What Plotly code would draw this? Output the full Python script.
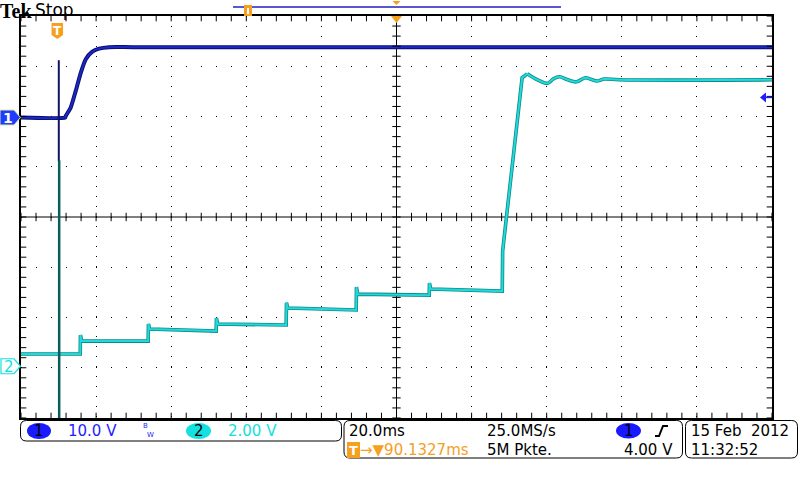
import plotly.graph_objects as go

# ---------------- scope settings ----------------
TIME_PER_DIV_MS = 20.0
TRIG_POS_MS = 90.1327          # trigger is this far left of screen centre
CH1_VOLTS_PER_DIV = 10.0
CH2_VOLTS_PER_DIV = 2.00
CH1_POS_DIV = 1.98             # ground marker positions (divisions from centre)
CH2_POS_DIV = -2.97
TRIG_LEVEL_V = 4.00

# ---------------- channel 1 (dark blue) ----------------
ch1_t = [-9.87, 1.9, 2.05, 3.38, 4.71, 6.05, 7.38, 9.13, 10.92, 13.58, 20.0, 190.13]
ch1_v = [0.0, 0.0, 0.3, 2.0, 5.3, 8.9, 11.6, 13.1, 13.7, 14.0, 14.0, 14.0]
ch1_spike_t = [0.2, 0.2]
ch1_spike_v = [11.4, -8.7]

# ---------------- channel 2 (cyan) ----------------
# staircase + rise (up to the first overshoot peak)
ch2_t = [-9.87, 5.9, 5.97, 6.3, 24.0, 24.07, 24.4, 42.1, 42.18, 42.5, 60.75, 60.83,
         61.15, 79.4, 79.47, 79.8, 98.85, 98.91, 99.25, 118.3, 118.4, 120.83, 121.54,
         122.42, 123.06, 123.59, 124.93]
ch2_v = [0.49, 0.49, 1.24, 1.00, 1.00, 1.68, 1.48, 1.40, 1.92, 1.68, 1.64, 2.53,
         2.32, 2.24, 3.15, 2.87, 2.83, 3.31, 3.07, 2.99, 4.58, 7.84, 8.70,
         9.89, 10.69, 11.48, 11.64]
# damped ringing after the overshoot peak
ch2_ring_t = [124.93, 127.7, 130.33, 131.9, 133.53, 135.7, 138.06, 140.45, 143.38,
              145.51, 149.5, 190.13]
ch2_ring_v = [11.64, 11.40, 11.26, 11.44, 11.52, 11.40, 11.32, 11.48, 11.35,
              11.43, 11.40, 11.40]
ch2_spike_t = [0.3, 0.3]
ch2_spike_v = [8.2, -6.0]

# ---------------- status texts ----------------
ch1_scale_text = "10.0 V"
ch2_scale_text = "2.00 V"
timebase_text = "20.0ms"
sample_rate_text = "25.0MS/s"
record_text = "5M Pkte."
trig_pos_text = "\u2192\u25bc90.1327ms"
trig_level_text = "4.00 V"
date_text = "15 Feb  2012"
time_text = "11:32:52"

# ---------------- geometry ----------------
W, H = 800, 480
L, R, T, B = 21, 772, 16, 418
PW, PH = R - L, B - T
DIV_X, DIV_Y = PW / 10.0, PH / 8.0

def xp(px):
    return (px - L) / PW

def yp(py):
    return (B - py) / PH

def poly(points):
    s = "M" + " L".join(f"{xp(a):.5f},{yp(b):.5f}" for a, b in points) + " Z"
    return s

def rrect(x0, y0, x1, y1, r):
    a, b = xp(x0), xp(x1)
    c, d = yp(y0), yp(y1)
    rx, ry = r / PW, r / PH
    return (f"M{a+rx},{c} L{b-rx},{c} Q{b},{c} {b},{c-ry} L{b},{d+ry} Q{b},{d} {b-rx},{d} "
            f"L{a+rx},{d} Q{a},{d} {a},{d+ry} L{a},{c-ry} Q{a},{c} {a+rx},{c} Z")

ORANGE = "#f5a01e"
BLUE_LBL = "#1e1eff"
CYAN_LBL = "#14dede"
FONT = "DejaVu Sans"

xmin = TRIG_POS_MS - 5 * TIME_PER_DIV_MS
xmax = TRIG_POS_MS + 5 * TIME_PER_DIV_MS
y1r = [(-4 - CH1_POS_DIV) * CH1_VOLTS_PER_DIV, (4 - CH1_POS_DIV) * CH1_VOLTS_PER_DIV]
y2r = [(-4 - CH2_POS_DIV) * CH2_VOLTS_PER_DIV, (4 - CH2_POS_DIV) * CH2_VOLTS_PER_DIV]

fig = go.Figure()

# ---- graticule decorations (in division units on overlay axes) ----
minor_x = [i * 0.2 for i in range(51)]
minor_y = [j * 0.2 - 4 for j in range(41)]
tick_style = dict(symbol="line-ns", size=6, line=dict(width=1, color="black"))
tick_style_ew = dict(symbol="line-ew", size=6, line=dict(width=1, color="black"))
small_ns = dict(symbol="line-ns", size=4, line=dict(width=1, color="black"))
small_ew = dict(symbol="line-ew", size=4, line=dict(width=1, color="black"))
dy_in = 2.5 / DIV_Y
dx_in = 2.5 / DIV_X
deco = [
    (minor_x, [0] * len(minor_x), tick_style),
    ([5] * len(minor_y), minor_y, tick_style_ew),
    (minor_x, [4 - dy_in] * len(minor_x), small_ns),
    (minor_x, [-4 + dy_in] * len(minor_x), small_ns),
    ([dx_in] * len(minor_y), minor_y, small_ew),
    ([10 - dx_in] * len(minor_y), minor_y, small_ew),
]
for xs, ys, mk in deco:
    fig.add_trace(go.Scatter(x=xs, y=ys, mode="markers", marker=mk, xaxis="x2", yaxis="y3",
                             hoverinfo="skip", cliponaxis=False))

# ---- channel 1 ----
for col, wd in [("#0c0c78", 4), ("#1a2ac0", 2)]:
    fig.add_trace(go.Scatter(x=ch1_t, y=ch1_v, mode="lines",
                             line=dict(color=col, width=wd, shape="spline", smoothing=0.6),
                             yaxis="y", hoverinfo="skip"))
fig.add_trace(go.Scatter(x=ch1_spike_t, y=ch1_spike_v, mode="lines",
                         line=dict(color="#121268", width=2), yaxis="y", hoverinfo="skip"))
# ---- channel 2 ----
for col, wd in [("#0a8a8a", 3.6), ("#22d8d8", 2)]:
    fig.add_trace(go.Scatter(x=ch2_t, y=ch2_v, mode="lines", line=dict(color=col, width=wd),
                             yaxis="y2", hoverinfo="skip"))
    fig.add_trace(go.Scatter(x=ch2_ring_t, y=ch2_ring_v, mode="lines",
                             line=dict(color=col, width=wd, shape="spline", smoothing=1.0),
                             yaxis="y2", hoverinfo="skip"))
fig.add_trace(go.Scatter(x=ch2_spike_t, y=ch2_spike_v, mode="lines",
                         line=dict(color="#0b5c5c", width=2.5), yaxis="y2", hoverinfo="skip"))

shapes = []
ann = []

def txt(s, px, py, color, size=15, anchor="left", family=FONT, yanchor="middle"):
    ann.append(dict(text=s, x=xp(px), y=yp(py), xref="paper", yref="paper", xanchor=anchor,
                    yanchor=yanchor, showarrow=False, borderpad=0, borderwidth=0,
                    font=dict(family=family, size=size, color=color)))

# centre cross
shapes.append(dict(type="line", xref="paper", yref="paper", x0=0.5, x1=0.5, y0=0, y1=1,
                   line=dict(color="black", width=1), layer="below"))
shapes.append(dict(type="line", xref="paper", yref="paper", x0=0, x1=1, y0=0.5, y1=0.5,
                   line=dict(color="black", width=1), layer="below"))

# header
txt("<b>Tek</b>", 0, 0, "black", size=20, family="Liberation Serif", yanchor="top")
txt("Stop", 35, 0, "black", size=17, yanchor="top")

# record view bar at top
shapes.append(dict(type="line", xref="paper", yref="paper", x0=xp(233), x1=xp(561), y0=yp(7), y1=yp(7),
                   line=dict(color="#2020c0", width=1.5)))
shapes.append(dict(type="rect", xref="paper", yref="paper", x0=xp(244), x1=xp(252), y0=yp(16), y1=yp(5),
                   fillcolor=ORANGE, line=dict(width=0)))
shapes.append(dict(type="rect", xref="paper", yref="paper", x0=xp(247), x1=xp(249), y0=yp(14), y1=yp(8),
                   fillcolor="white", line=dict(width=0)))
cx = L + PW / 2
shapes.append(dict(type="path", xref="paper", yref="paper", path=poly([(cx - 4, 1), (cx + 4, 1), (cx, 5)]),
                   fillcolor=ORANGE, line=dict(width=0)))
# trigger position marker at top centre
shapes.append(dict(type="path", xref="paper", yref="paper", path=poly([(cx - 5.5, 16), (cx + 5.5, 16), (cx, 23)]),
                   fillcolor=ORANGE, line=dict(width=0)))

# trigger "T" badge
tx = L + (0 - xmin) / (xmax - xmin) * PW
shapes.append(dict(type="path", xref="paper", yref="paper",
                   path=poly([(tx - 6.5, 23), (tx + 5, 23), (tx + 5, 35), (tx - 0.75, 39), (tx - 6.5, 35)]),
                   fillcolor=ORANGE, line=dict(width=0)))
txt("<b>T</b>", tx - 0.75, 31, "white", size=12, anchor="center")

# channel ground markers
g1 = T + (4 - CH1_POS_DIV) * DIV_Y
g2 = T + (4 - CH2_POS_DIV) * DIV_Y
shapes.append(dict(type="path", xref="paper", yref="paper",
                   path=poly([(0, g1 - 7.5), (14, g1 - 7.5), (20.5, g1), (14, g1 + 7.5), (0, g1 + 7.5)]),
                   fillcolor="#1c3cff", line=dict(color="#e6e690", width=1)))
txt("<b>1</b>", 8, g1 + 0.5, "white", size=14, anchor="center")
shapes.append(dict(type="path", xref="paper", yref="paper",
                   path=poly([(1, g2 - 7.5), (14, g2 - 7.5), (20.5, g2), (14, g2 + 7.5), (1, g2 + 7.5)]),
                   fillcolor="white", line=dict(color=CYAN_LBL, width=1.2)))
txt("2", 9, g2 + 0.5, CYAN_LBL, size=15, anchor="center")

# trigger level arrow at right
ty = T + (4 - (CH1_POS_DIV + TRIG_LEVEL_V / CH1_VOLTS_PER_DIV)) * DIV_Y
shapes.append(dict(type="path", xref="paper", yref="paper",
                   path=poly([(760, ty), (766, ty - 5), (766, ty + 5)]),
                   fillcolor="#1e1eff", line=dict(width=0)))
shapes.append(dict(type="line", xref="paper", yref="paper", x0=xp(765), x1=xp(772), y0=yp(ty), y1=yp(ty),
                   line=dict(color="#1e1eff", width=1.5)))

# bottom status boxes
for (a, b_, c, d) in [(20.5, 420.5, 341.5, 441), (344, 420.5, 682.5, 458), (685.5, 420.5, 797.5, 458)]:
    shapes.append(dict(type="path", xref="paper", yref="paper", path=rrect(a, b_, c, d, 6),
                       line=dict(color="black", width=1), fillcolor="rgba(0,0,0,0)"))

row1, row2 = 431, 450
shapes.append(dict(type="circle", xref="paper", yref="paper", x0=xp(27), x1=xp(51), y0=yp(439), y1=yp(423),
                   fillcolor="#1a1aff", line=dict(width=0)))
txt("1", 39, row1, "black", anchor="center")
txt(ch1_scale_text, 68, row1, BLUE_LBL)
txt("B", 145.5, 426, BLUE_LBL, size=7, anchor="center")
txt("W", 150, 435, BLUE_LBL, size=7, anchor="center")
shapes.append(dict(type="circle", xref="paper", yref="paper", x0=xp(186), x1=xp(211), y0=yp(439), y1=yp(423),
                   fillcolor="#14e0e0", line=dict(width=0)))
txt("2", 198.5, row1, "black", anchor="center")
txt(ch2_scale_text, 228, row1, CYAN_LBL)

txt(timebase_text, 349, row1, "black")
txt(sample_rate_text, 487, row1, "black")
shapes.append(dict(type="circle", xref="paper", yref="paper", x0=xp(616), x1=xp(641), y0=yp(438.5), y1=yp(423),
                   fillcolor="#1a1aff", line=dict(width=0)))
txt("1", 628.5, row1, "black", anchor="center")
shapes.append(dict(type="path", xref="paper", yref="paper",
                   path=f"M{xp(655)},{yp(436)} L{xp(659)},{yp(436)} L{xp(663)},{yp(426)} L{xp(668)},{yp(426)}",
                   line=dict(color="black", width=2)))
shapes.append(dict(type="rect", xref="paper", yref="paper", x0=xp(347), x1=xp(360), y0=yp(458), y1=yp(442),
                   fillcolor=ORANGE, line=dict(width=0)))
txt("<b>T</b>", 353.5, 450, "white", size=13, anchor="center")
txt(trig_pos_text, 360, row2, ORANGE)
txt(record_text, 487, row2, "black")
txt(trig_level_text, 673, row2, "black", anchor="right")
txt(date_text, 691, row1, "black")
txt(time_text, 691, row2, "black")

fig.update_layout(
    width=W, height=H,
    margin=dict(l=L, r=W - R, t=T, b=H - B, pad=0),
    paper_bgcolor="white", plot_bgcolor="white",
    showlegend=False,
    xaxis=dict(range=[xmin, xmax], showgrid=False, zeroline=False, showticklabels=False, ticks="",
               showline=True, mirror=True, linecolor="black", linewidth=1.5, fixedrange=True),
    yaxis=dict(range=y1r, showgrid=False, zeroline=False, showticklabels=False, ticks="",
               showline=True, mirror=True, linecolor="black", linewidth=1.5, fixedrange=True),
    yaxis2=dict(range=y2r, overlaying="y", showgrid=False, zeroline=False, showticklabels=False,
                ticks="", showline=False, fixedrange=True),
    xaxis2=dict(range=[0, 10], overlaying="x", tick0=0, dtick=1, showgrid=True, gridcolor="black",
                gridwidth=1, griddash="1px,9px", zeroline=False, showticklabels=False, ticks="",
                showline=False, fixedrange=True),
    yaxis3=dict(range=[-4, 4], overlaying="y", tick0=-4, dtick=1, showgrid=True, gridcolor="black",
                gridwidth=1, griddash="1px,14px", zeroline=False, showticklabels=False, ticks="",
                showline=False, fixedrange=True),
    shapes=shapes,
    annotations=ann,
)

fig.write_html("out.html", config={"displayModeBar": False},
               post_script="document.body.style.margin='0';document.body.style.overflow='hidden';")
